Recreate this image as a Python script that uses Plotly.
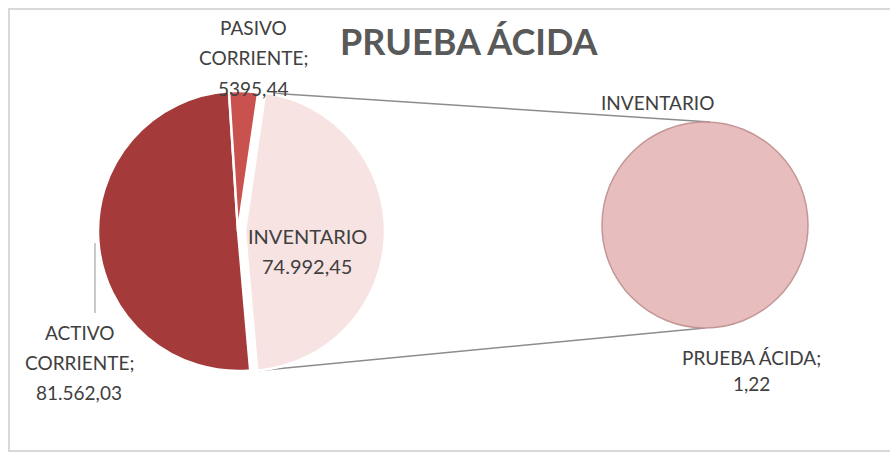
import math
import plotly.graph_objects as go

# ---- data ----
main_labels = ["ACTIVO CORRIENTE", "PASIVO CORRIENTE", "INVENTARIO"]
main_values = [81562.03, 5395.44, 74992.45]
main_value_text = ["81.562,03", "5395,44", "74.992,45"]
sec_labels = ["PRUEBA ÁCIDA"]
sec_values = [1.22]
sec_value_text = ["1,22"]
title_text = "PRUEBA ÁCIDA"

# ---- layout geometry (pixels) ----
W, H = 890, 453
main_c = (238, 231)
main_r = 140
pull_inv = 0.05
rotation = 175
sec_c = (705, 225)
sec_r = 103

def px(x):
    return x / W

def py(y):
    return 1 - y / H

main_colors = ["#A43B3A", "#C9524F", "#F8E3E3"]
sec_colors = ["#E8BDBD"]
text_col = "#404040"
font_fam = "Lato, 'Open Sans', sans-serif"

half_main = main_r * (1 + pull_inv)
fig = go.Figure()
fig.add_trace(go.Pie(
    labels=main_labels, values=main_values, sort=False, direction="clockwise",
    rotation=rotation, pull=[0, 0.0, pull_inv], textinfo="none", hoverinfo="label+value",
    marker=dict(colors=main_colors, line=dict(color="white", width=2.5)),
    domain=dict(x=[px(main_c[0] - half_main), px(main_c[0] + half_main)],
                y=[py(main_c[1] + half_main), py(main_c[1] - half_main)]),
    showlegend=False,
))
fig.add_trace(go.Pie(
    labels=sec_labels, values=sec_values, sort=False, textinfo="none",
    marker=dict(colors=sec_colors, line=dict(color="#C49696", width=1.5)),
    domain=dict(x=[px(sec_c[0] - sec_r), px(sec_c[0] + sec_r)],
                y=[py(sec_c[1] + sec_r), py(sec_c[1] - sec_r)]),
    showlegend=False,
))

# connector lines from exploded INVENTARIO slice to secondary pie
total = sum(main_values)
a0 = math.radians(rotation + 360 * (main_values[0] + main_values[1]) / total)
a1 = a0 + math.radians(360 * main_values[2] / total)
am = (a0 + a1) / 2
ox = main_c[0] + pull_inv * main_r * math.sin(am)
oy = main_c[1] - pull_inv * main_r * math.cos(am)
p_start = (ox + main_r * math.sin(a0), oy - main_r * math.cos(a0))
p_end = (ox + main_r * math.sin(a1), oy - main_r * math.cos(a1))
shapes = [
    dict(type="line", xref="paper", yref="paper", layer="below",
         x0=px(p_start[0]), y0=py(p_start[1]), x1=px(sec_c[0] + 5), y1=py(sec_c[1] - sec_r),
         line=dict(color="#8C8C8C", width=1.5)),
    dict(type="line", xref="paper", yref="paper", layer="below",
         x0=px(p_end[0]), y0=py(p_end[1]), x1=px(sec_c[0]), y1=py(sec_c[1] + sec_r),
         line=dict(color="#8C8C8C", width=1.5)),
    # leader line for ACTIVO label
    dict(type="line", xref="paper", yref="paper",
         x0=px(95), y0=py(243), x1=px(95), y1=py(313),
         line=dict(color="#A6A6A6", width=1.2)),
    # chart border
    dict(type="rect", xref="paper", yref="paper",
         x0=px(9), y0=py(451), x1=1.02, y1=py(9),
         line=dict(color="#D9D9D9", width=2)),
]

annotations = []

def add_lines(lines, cx, y0, step, size):
    for i, t in enumerate(lines):
        annotations.append(dict(
            x=px(cx), y=py(y0 + i * step), xref="paper", yref="paper",
            text=t, showarrow=False, xanchor="center", yanchor="middle",
            font=dict(family=font_fam, size=size, color=text_col)))

# ACTIVO label
act_words = main_labels[0].split(" ")
add_lines([act_words[0], act_words[1] + ";", main_value_text[0]], 79, 332, 30, 19)
# PASIVO label
pas_words = main_labels[1].split(" ")
add_lines([pas_words[0], pas_words[1] + ";", main_value_text[1]], 253, 28, 30, 19)
# INVENTARIO inside label
add_lines([main_labels[2], main_value_text[2]], 307, 236, 30, 20)
# secondary pie labels
add_lines([main_labels[2]], 657, 102, 25, 19)
add_lines([sec_labels[0] + ";", sec_value_text[0]], 751, 357, 26, 19)

# title
annotations.append(dict(
    x=px(470), y=py(41), xref="paper", yref="paper", text="<b>" + title_text + "</b>",
    showarrow=False, xanchor="center", yanchor="middle",
    font=dict(family=font_fam, size=36, color="#595959")))

fig.update_layout(
    width=W, height=H, margin=dict(l=0, r=0, t=0, b=0),
    paper_bgcolor="white", plot_bgcolor="white",
    shapes=shapes, annotations=annotations,
)
fig.write_html("out.html", config={"displayModeBar": False},
               post_script="document.body.style.margin='0';")
